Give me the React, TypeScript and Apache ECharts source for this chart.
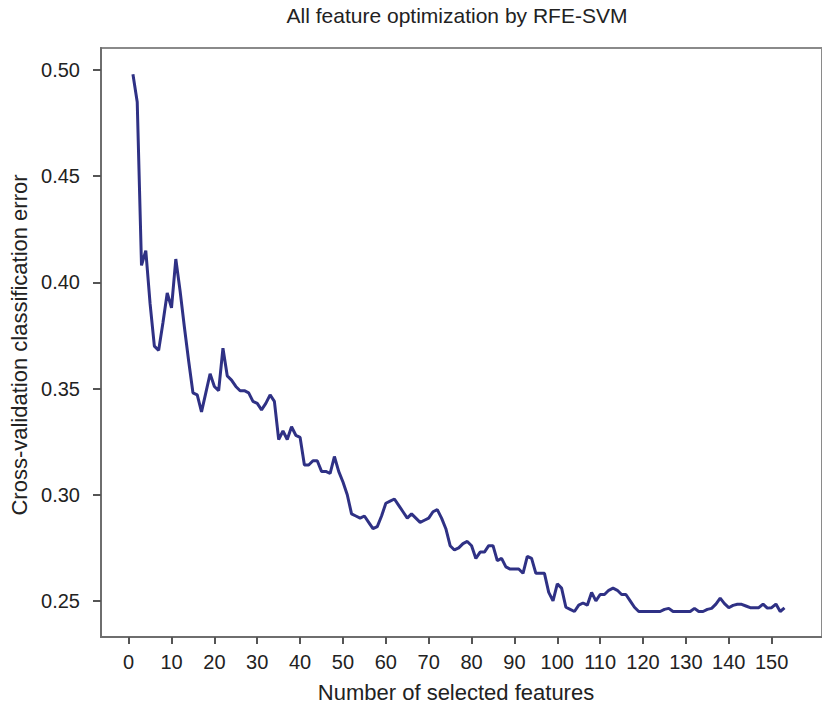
import React, { useEffect, useRef } from "react";
import * as echarts from "echarts";

// Number of selected features, 1..153
const featureCounts: number[] = Array.from({ length: 153 }, (_, i) => i + 1);

// Cross-validation classification error for each feature count
const cvError: number[] = [
  // 1-10
  0.498, 0.485, 0.408, 0.415, 0.390, 0.370, 0.368, 0.381, 0.395, 0.388,
  // 11-20
  0.411, 0.396, 0.379, 0.363, 0.348, 0.347, 0.339, 0.348, 0.357, 0.351,
  // 21-30
  0.349, 0.369, 0.356, 0.354, 0.351, 0.349, 0.349, 0.348, 0.344, 0.343,
  // 31-40
  0.340, 0.343, 0.347, 0.344, 0.326, 0.330, 0.326, 0.332, 0.328, 0.327,
  // 41-50
  0.314, 0.314, 0.316, 0.316, 0.311, 0.311, 0.310, 0.318, 0.311, 0.306,
  // 51-60
  0.300, 0.291, 0.290, 0.289, 0.290, 0.287, 0.284, 0.285, 0.290, 0.296,
  // 61-70
  0.297, 0.298, 0.295, 0.292, 0.289, 0.291, 0.289, 0.287, 0.288, 0.289,
  // 71-80
  0.292, 0.293, 0.289, 0.284, 0.276, 0.274, 0.275, 0.277, 0.278, 0.276,
  // 81-90
  0.270, 0.273, 0.273, 0.276, 0.276, 0.269, 0.270, 0.266, 0.265, 0.265,
  // 91-100
  0.265, 0.263, 0.271, 0.270, 0.263, 0.263, 0.263, 0.254, 0.250, 0.258,
  // 101-110
  0.256, 0.247, 0.246, 0.245, 0.248, 0.249, 0.248, 0.254, 0.250, 0.253,
  // 111-120
  0.253, 0.255, 0.256, 0.255, 0.253, 0.253, 0.250, 0.247, 0.245, 0.245,
  // 121-130
  0.245, 0.245, 0.245, 0.245, 0.246, 0.2465, 0.245, 0.245, 0.245, 0.245,
  // 131-140
  0.245, 0.2465, 0.245, 0.245, 0.246, 0.2465, 0.2485, 0.2513, 0.2487, 0.2468,
  // 141-150
  0.2479, 0.2484, 0.2484, 0.2476, 0.2468, 0.2468, 0.2468, 0.2485, 0.2466, 0.2468,
  // 151-153
  0.2485, 0.245, 0.2467,
];

const xTickValues: number[] = [0, 10, 20, 30, 40, 50, 60, 70, 80, 90, 100, 110, 120, 130, 140, 150];
const yTickValues: number[] = [0.25, 0.3, 0.35, 0.4, 0.45, 0.5];

const chartTitle = "All feature optimization by RFE-SVM";
const xAxisTitle = "Number of selected features";
const yAxisTitle = "Cross-validation classification error";

const FONT = "'Liberation Sans', Arial, Helvetica, sans-serif";

export default function App() {
  const ref = useRef<HTMLDivElement>(null);

  useEffect(() => {
    if (!ref.current) return;
    const chart = echarts.init(ref.current, null, { renderer: "svg" });

    const axisLineStyle = { color: "#6e6e6e", width: 2 };
    const tickStyle = { color: "#555555", width: 2 };

    chart.setOption({
      animation: false,
      backgroundColor: "#ffffff",
      grid: {
        left: 101,
        top: 48,
        width: 730,
        height: 589,
        show: true,
        borderColor: "#8a8a8a",
        borderWidth: 2,
        containLabel: false,
      },
      xAxis: {
        type: "value",
        min: -6.45,
        max: 161.75,
        splitLine: { show: false },
        axisLine: { show: true, onZero: false, lineStyle: axisLineStyle },
        axisTick: {
          show: true,
          inside: false,
          length: 7,
          lineStyle: tickStyle,
          customValues: xTickValues,
        },
        axisLabel: {
          show: true,
          margin: 15,
          fontSize: 20,
          color: "#222222",
          fontFamily: FONT,
          customValues: xTickValues,
          formatter: (v: number) => String(Math.round(v)),
        },
      },
      yAxis: {
        type: "value",
        min: 0.233,
        max: 0.5104,
        splitLine: { show: false },
        axisLine: { show: true, onZero: false, lineStyle: axisLineStyle },
        axisTick: {
          show: true,
          inside: false,
          length: 8,
          lineStyle: tickStyle,
          customValues: yTickValues,
        },
        axisLabel: {
          show: true,
          margin: 21,
          fontSize: 20,
          color: "#222222",
          fontFamily: FONT,
          customValues: yTickValues,
          formatter: (v: number) => v.toFixed(2),
        },
      },
      series: [
        {
          type: "line",
          data: featureCounts.map((n, i) => [n, cvError[i]]),
          showSymbol: false,
          symbol: "none",
          lineStyle: { color: "#2f3185", width: 3 },
          clip: true,
        },
      ],
      graphic: [
        {
          type: "text",
          x: 457,
          y: 15,
          style: {
            text: chartTitle,
            fill: "#222222",
            font: `21px ${FONT}`,
            textAlign: "center",
            textVerticalAlign: "middle",
          },
        },
        {
          type: "text",
          x: 456,
          y: 692,
          style: {
            text: xAxisTitle,
            fill: "#222222",
            font: `22px ${FONT}`,
            textAlign: "center",
            textVerticalAlign: "middle",
          },
        },
        {
          type: "text",
          x: 19,
          y: 345,
          rotation: Math.PI / 2,
          style: {
            text: yAxisTitle,
            fill: "#222222",
            font: `22px ${FONT}`,
            textAlign: "center",
            textVerticalAlign: "middle",
          },
        },
      ],
    });

    return () => chart.dispose();
  }, []);

  return (
    <div
      ref={ref}
      style={{ position: "absolute", left: 0, top: 0, width: 822, height: 704, background: "#fff" }}
    />
  );
}
